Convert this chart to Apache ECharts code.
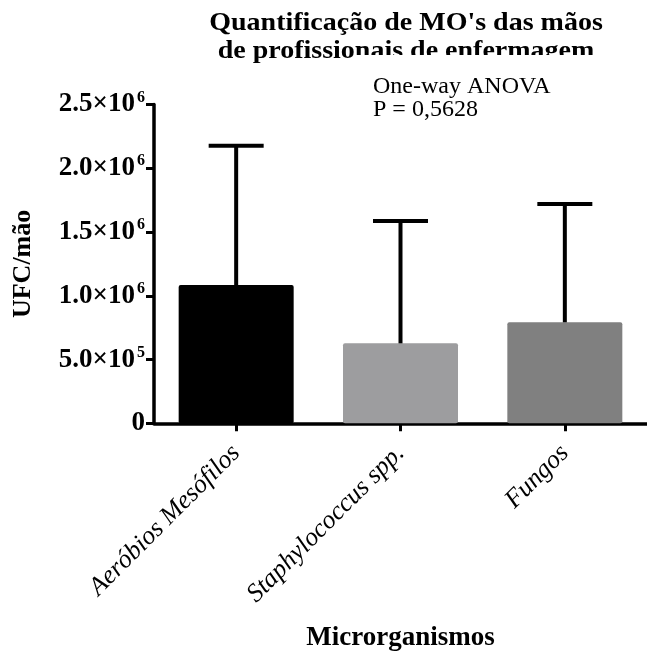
<!DOCTYPE html>
<html>
<head>
<meta charset="utf-8">
<script src="https://cdn.jsdelivr.net/npm/echarts@6/dist/echarts.min.js"></script>
<style>
html,body{margin:0;padding:0;background:#fff;}
#chart{width:647px;height:653px;}
</style>
</head>
<body>
<div id="chart"></div>
<script>
const categories = ['Aeróbios Mesófilos', 'Staphylococcus spp.', 'Fungos'];
const means = [1085000, 627000, 792000];
const sdUpper = [1092000, 960000, 928000];
const barColors = ['#000000', '#9d9d9f', '#808080'];
const yTickValues = [0, 500000, 1000000, 1500000, 2000000, 2500000];
const yTickMantissa = ['0', '5.0×10', '1.0×10', '1.5×10', '2.0×10', '2.5×10'];
const yTickExponent = ['', '5', '6', '6', '6', '6'];
const titleLines = ["Quantificação de MO's das mãos", 'de profissionais de enfermagem'];
const annotationLines = ['One-way ANOVA', 'P = 0,5628'];

const SERIF = '"Liberation Serif", "Times New Roman", serif';
const titleFontSize = 25;
const titleScaleX = 1.12;
const titleFont = 'bold ' + titleFontSize + 'px ' + SERIF;

function measure(text, font) {
  const c = document.createElement('canvas').getContext('2d');
  c.font = font;
  return c.measureText(text).width;
}
const titleCenterX = 406;
const line2Width = measure(titleLines[1], titleFont) * titleScaleX;
const cutX = titleCenterX - line2Width / 2 + measure('de profissio', titleFont) * titleScaleX;

const chart = echarts.init(document.getElementById('chart'), null, {renderer: 'canvas'});

const option = {
  backgroundColor: '#ffffff',
  animation: false,
  grid: {left: 154, top: 104.5, width: 501, height: 318.8, containLabel: false},
  xAxis: {
    type: 'category',
    data: categories,
    boundaryGap: true,
    axisLine: {show: true, lineStyle: {color: '#000', width: 3.5}},
    axisTick: {show: true, alignWithLabel: true, length: 8, lineStyle: {color: '#000', width: 3}},
    axisLabel: {
      rotate: 45, margin: 26, interval: 0,
      color: '#000', fontFamily: SERIF, fontStyle: 'italic', fontSize: 26
    },
    name: 'Microrganismos',
    nameLocation: 'middle',
    nameGap: 201,
    nameTextStyle: {color: '#000', fontFamily: SERIF, fontWeight: 'bold', fontSize: 27}
  },
  yAxis: {
    type: 'value',
    min: 0, max: 2500000, interval: 500000,
    splitLine: {show: false},
    axisLine: {show: true, lineStyle: {color: '#000', width: 3.5}},
    axisTick: {show: true, length: 8, lineStyle: {color: '#000', width: 3}},
    axisLabel: {
      margin: 9,
      formatter: function (v) {
        const i = yTickValues.indexOf(v);
        if (i < 0) return '';
        if (!yTickExponent[i]) return '{m|' + yTickMantissa[i] + '}';
        return '{m|' + yTickMantissa[i] + '}{e|' + yTickExponent[i] + '}';
      },
      rich: {
        m: {fontFamily: SERIF, fontWeight: 'bold', fontSize: 27, color: '#000', lineHeight: 30},
        e: {fontFamily: SERIF, fontWeight: 'bold', fontSize: 16, color: '#000', lineHeight: 30, padding: [0, 0, 13, 2], verticalAlign: 'top'}
      }
    },
    name: 'UFC/mão',
    nameLocation: 'middle',
    nameGap: 118,
    nameTextStyle: {color: '#000', fontFamily: SERIF, fontWeight: 'bold', fontSize: 26}
  },
  series: [
    {
      type: 'bar',
      barWidth: 115,
      data: means.map((v, i) => ({value: v, itemStyle: {color: barColors[i], borderRadius: 2}})),
      z: 2
    },
    {
      type: 'custom',
      z: 3,
      data: means.map((v, i) => [i, v, v + sdUpper[i]]),
      renderItem: function (params, api) {
        const base = api.coord([api.value(0), api.value(1)]);
        const top = api.coord([api.value(0), api.value(2)]);
        const half = 27.5;
        return {
          type: 'group',
          children: [
            {type: 'line', shape: {x1: top[0], y1: base[1], x2: top[0], y2: top[1]}, style: {stroke: '#000', lineWidth: 4}},
            {type: 'line', shape: {x1: top[0] - half, y1: top[1], x2: top[0] + half, y2: top[1]}, style: {stroke: '#000', lineWidth: 4}}
          ]
        };
      }
    }
  ],
  graphic: [
    {type: 'text', x: titleCenterX, y: 24, scaleX: titleScaleX, z: 10,
     style: {text: titleLines[0], font: titleFont, fill: '#000', align: 'center', verticalAlign: 'middle', textAlign: 'center', textVerticalAlign: 'middle'}},
    {type: 'text', x: titleCenterX, y: 52, scaleX: titleScaleX, z: 10,
     style: {text: titleLines[1], font: titleFont, fill: '#000', align: 'center', verticalAlign: 'middle', textAlign: 'center', textVerticalAlign: 'middle'}},
    {type: 'rect', z: 11, shape: {x: cutX, y: 55, width: 647 - cutX, height: 18}, style: {fill: '#ffffff'}},
    {type: 'text', x: 373, y: 87, z: 12,
     style: {text: annotationLines[0], font: '24px ' + SERIF, fill: '#000', align: 'left', verticalAlign: 'middle', textAlign: 'left', textVerticalAlign: 'middle'}},
    {type: 'text', x: 373, y: 110, z: 12,
     style: {text: annotationLines[1], font: '24px ' + SERIF, fill: '#000', align: 'left', verticalAlign: 'middle', textAlign: 'left', textVerticalAlign: 'middle'}}
  ]
};
chart.setOption(option);
</script>
</body>
</html>
